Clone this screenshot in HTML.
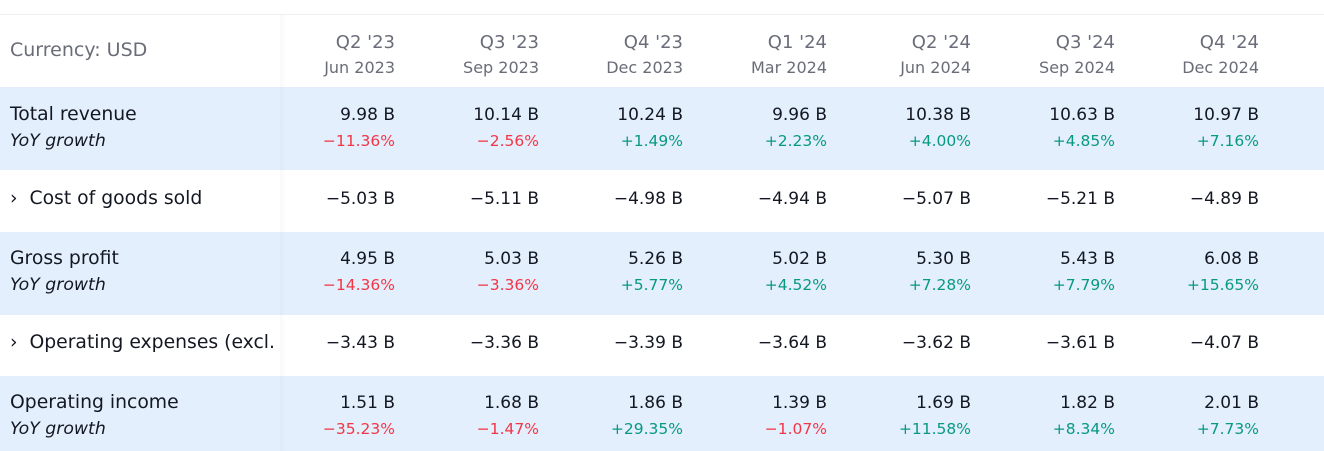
<!DOCTYPE html>
<html><head><meta charset="utf-8"><style>
*{margin:0;padding:0;box-sizing:border-box}
body{width:1324px;height:451px;overflow:hidden;background:#fff;font-family:"DejaVu Sans","Liberation Sans",sans-serif;color:#131722;position:relative}
.t{position:absolute;white-space:nowrap;line-height:1}
.band{position:absolute;left:0;width:1324px;background:#e3effd}
.r{text-align:right;width:140px}
.big{font-size:17px}
.sm{font-size:15.5px}
.lb{font-size:18.8px}
.ls{font-size:17.3px;font-style:italic}
.red{color:#f23645}.grn{color:#089981}
.gray{color:#6a6d78}
</style></head><body>
<div style="position:absolute;left:0;top:14px;width:1324px;height:1px;background:#eceef2"></div>
<div class="band" style="top:87px;height:83px"></div>
<div class="band" style="top:232px;height:83px"></div>
<div class="band" style="top:376px;height:75px"></div>
<div style="position:absolute;left:280px;top:15px;width:6px;height:436px;background:linear-gradient(to right,rgba(0,0,0,0.025),rgba(0,0,0,0))"></div>
<div class="t gray" style="left:10px;top:41px;font-size:19px">Currency: USD</div>
<div class="t lb" style="left:10px;top:106px">Total revenue</div>
<div class="t ls" style="left:10px;top:133px">YoY growth</div>
<div class="t lb" style="left:10px;top:190px">›&nbsp; Cost of goods sold</div>
<div class="t lb" style="left:10px;top:250px">Gross profit</div>
<div class="t ls" style="left:10px;top:277px">YoY growth</div>
<div class="t lb" style="left:10px;top:334px">›&nbsp; Operating expenses (excl.</div>
<div class="t lb" style="left:10px;top:394px">Operating income</div>
<div class="t ls" style="left:10px;top:421px">YoY growth</div>
<div id="cols"></div>
<script>
const q=[["Q2 '23","Jun 2023"],["Q3 '23","Sep 2023"],["Q4 '23","Dec 2023"],["Q1 '24","Mar 2024"],["Q2 '24","Jun 2024"],["Q3 '24","Sep 2024"],["Q4 '24","Dec 2024"]];
const rows=[
[107,"big","",["9.98 B","10.14 B","10.24 B","9.96 B","10.38 B","10.63 B","10.97 B"]],
[134,"sm","p",["−11.36%","−2.56%","+1.49%","+2.23%","+4.00%","+4.85%","+7.16%"]],
[191,"big","",["−5.03 B","−5.11 B","−4.98 B","−4.94 B","−5.07 B","−5.21 B","−4.89 B"]],
[251,"big","",["4.95 B","5.03 B","5.26 B","5.02 B","5.30 B","5.43 B","6.08 B"]],
[278,"sm","p",["−14.36%","−3.36%","+5.77%","+4.52%","+7.28%","+7.79%","+15.65%"]],
[335,"big","",["−3.43 B","−3.36 B","−3.39 B","−3.64 B","−3.62 B","−3.61 B","−4.07 B"]],
[395,"big","",["1.51 B","1.68 B","1.86 B","1.39 B","1.69 B","1.82 B","2.01 B"]],
[422,"sm","p",["−35.23%","−1.47%","+29.35%","−1.07%","+11.58%","+8.34%","+7.73%"]]];
let h="";
for(let i=0;i<7;i++){const R=395+144*i,L=R-140;
h+=`<div class="t r gray" style="left:${L}px;top:34px;font-size:18px">${q[i][0]}</div>`;
h+=`<div class="t r gray" style="left:${L}px;top:60px;font-size:16px">${q[i][1]}</div>`;
for(const r of rows){let c=r[1];if(r[2])c+=r[3][i][0]=="+"?" grn":" red";
h+=`<div class="t r ${c}" style="left:${L}px;top:${r[0]}px">${r[3][i]}</div>`;}}
document.getElementById("cols").innerHTML=h;
</script>
</body></html>
